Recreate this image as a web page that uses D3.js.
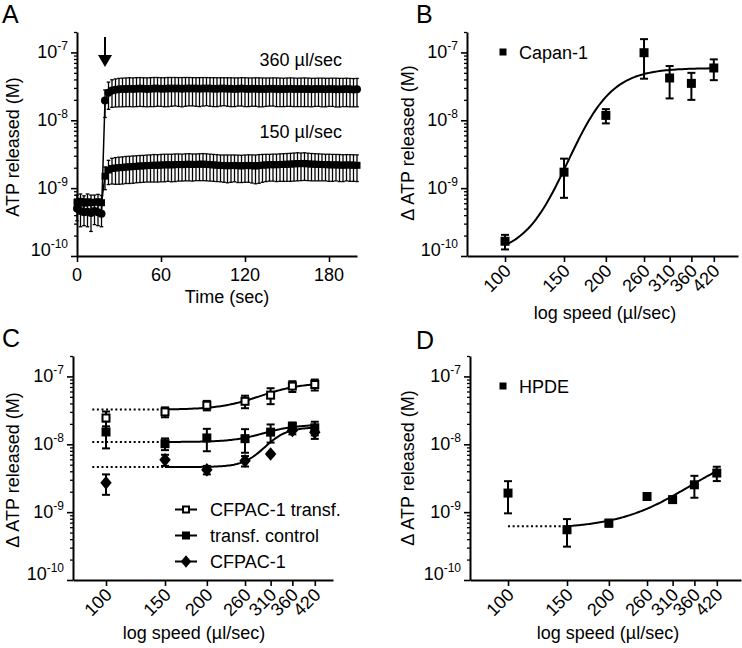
<!DOCTYPE html>
<html><head><meta charset="utf-8">
<script src="https://cdn.jsdelivr.net/npm/d3@7"></script>
<style>
body{margin:0;background:#fff}
svg{display:block}
text{font-family:"Liberation Sans",Arial,Helvetica,sans-serif;fill:#000}
</style>
</head><body>
<svg id="chart" width="742" height="648"></svg>
<script>
// ---------------- DATA ----------------
// Panel A: time course (values in nM)
const timeSec = [0,2.5,5,7.5,10,12.5,15,17.5,20,22.5,25,27.5,30,32.5,35,37.5,40,42.5,45,47.5,50,52.5,55,57.5,60,62.5,65,67.5,70,72.5,75,77.5,80,82.5,85,87.5,90,92.5,95,97.5,100,102.5,105,107.5,110,112.5,115,117.5,120,122.5,125,127.5,130,132.5,135,137.5,140,142.5,145,147.5,150,152.5,155,157.5,160,162.5,165,167.5,170,172.5,175,177.5,180,182.5,185,187.5,190,192.5,195,197.5,200];
const mean360 = [0.50,0.46,0.44,0.45,0.43,0.46,0.44,0.42,
  19.5,25.5,27.5,28.2,28.6,28.8,29.0,29.1,29.0,29.2,29.3,29.1,
  29.0,29.2,29.3,29.4,29.2,29.1,29.3,29.4,29.5,29.3,
  29.2,29.4,29.5,29.4,29.3,29.2,29.4,29.5,29.3,29.2,
  29.1,29.3,29.4,29.2,29.1,29.0,29.2,29.3,29.1,29.0,
  29.1,29.2,29.0,28.9,29.0,29.1,29.2,29.0,28.9,28.8,
  29.0,29.1,28.9,28.8,28.9,29.0,28.9,28.7,28.8,28.9,
  28.8,28.7,28.8,28.9,28.7,28.6,28.7,28.8,28.6,28.5,28.6];
const sd360 = [0.17,0.19,0.16,0.18,0.20,0.17,0.16,0.15,
  8.5,11.0,12.0,12.5,12.8,13.0,13.1,13.2,13.2,13.3,13.3,13.2,
  13.2,13.3,13.4,13.3,13.2,13.3,13.4,13.3,13.2,13.3,
  13.4,13.3,13.2,13.1,13.2,13.3,13.2,13.1,13.2,13.3,
  13.2,13.1,13.0,13.1,13.2,13.1,13.0,13.1,13.2,13.1,
  13.0,13.1,13.2,13.1,13.0,12.9,13.0,13.1,13.0,12.9,
  13.0,13.1,13.0,12.9,13.0,13.1,13.0,12.9,12.8,12.9,
  13.0,12.9,12.8,12.9,13.0,12.9,12.8,12.9,12.8,12.7,12.8];
const mean150 = [0.62,0.64,0.60,0.63,0.61,0.62,0.63,0.61,
  1.50,1.85,1.95,1.98,2.00,2.02,2.05,2.06,2.08,2.10,2.12,2.13,
  2.15,2.16,2.18,2.17,2.19,2.20,2.21,2.20,2.22,2.23,
  2.22,2.24,2.25,2.23,2.24,2.25,2.26,2.24,2.22,2.20,
  2.18,2.16,2.15,2.14,2.15,2.16,2.14,2.13,2.15,2.16,
  2.14,2.12,2.15,2.18,2.20,2.21,2.22,2.21,2.23,2.24,
  2.25,2.26,2.28,2.30,2.29,2.31,2.28,2.26,2.25,2.24,
  2.23,2.22,2.21,2.20,2.21,2.19,2.18,2.20,2.19,2.18,2.17];
const sd150 = [0.17,0.18,0.17,0.19,0.18,0.17,0.18,0.17,
  0.55,0.72,0.80,0.84,0.86,0.87,0.88,0.89,0.90,0.90,0.91,0.91,
  0.92,0.93,0.95,0.94,0.95,0.96,0.95,0.96,0.97,0.96,
  0.95,0.96,0.97,0.96,0.95,0.96,0.97,0.96,0.95,0.94,
  0.93,0.92,0.93,0.94,0.93,0.92,0.93,0.92,0.93,0.94,
  0.95,0.96,0.97,0.96,0.95,0.94,0.95,0.96,0.97,0.98,
  0.99,1.00,1.01,1.02,1.00,1.01,0.99,0.98,0.97,0.96,
  0.95,0.94,0.95,0.94,0.93,0.94,0.93,0.92,0.93,0.92,0.92];
const timeTicks = [0,60,120,180];

// Panels B-D: flow speeds (µl/sec)
const speeds = [100,150,200,260,310,360,420];
const speedLabels = ["100","150","200","260","310","360","420"];
const yMajorTicks = [1e-10,1e-9,1e-8,1e-7];
const yTickExponents = ["-10","-9","-8","-7"];

// Panel B: Capan-1 (M)
const capanMean = [1.65e-10,1.72e-9,1.18e-8,9.9e-8,4.2e-8,3.5e-8,5.9e-8];
const capanErr  = [0.40e-10,1.0e-9,0.28e-8,5.8e-8,2.1e-8,1.5e-8,2.0e-8];
// sigmoid fit in log10 space: [bottom, top, logEC50, hill]
const capanFit = [-10.0,-7.23,2.187,6.5];

// Panel C (M)
const cfTransfMean = [2.44e-8,3.0e-8,3.76e-8,4.3e-8,5.3e-8,7.2e-8,7.6e-8];
const cfTransfErr  = [0.6e-8,0.5e-8,0.6e-8,0.9e-8,1.4e-8,1.3e-8,1.4e-8];
const controlMean  = [1.52e-8,1.02e-8,1.24e-8,1.21e-8,1.51e-8,1.84e-8,1.75e-8];
const controlErr   = [0.65e-8,0.2e-8,0.45e-8,0.46e-8,0.45e-8,0.25e-8,0.4e-8];
const cfpacMean    = [2.7e-9,5.9e-9,4.2e-9,5.7e-9,7.2e-9,1.6e-8,1.5e-8];
const cfpacErr     = [0.9e-9,1.1e-9,0.6e-9,1.0e-9,0.3e-9,0.2e-8,0.3e-8];
const cfTransfFit  = [-7.49,-7.09,2.46,7];
const controlFit   = [-7.966,-7.71,2.47,9];
const cfpacFit     = [-8.335,-7.75,2.474,13];
const cFitRange = [150,420];
const cDottedStart = 91;

// Panel D: HPDE (M)
const hpdeMean = [1.91e-9,5.5e-10,6.9e-10,1.7e-9,1.53e-9,2.53e-9,3.77e-9];
const hpdeErr  = [0.95e-9,0.24e-9,0.08e-9,0.15e-9,0.12e-9,0.9e-9,0.9e-9];
const hpdeFit  = [-9.25,-8.0,2.54,4];
const dFitRange = [150,420];
const dDottedStart = 100;

const legendC = ["CFPAC-1 transf.","transf. control","CFPAC-1"];

// ---------------- DRAWING ----------------
const svg = d3.select("#chart");
const FS = 18;
const yDomain = [1e-10, 2e-7];
const minorY = [];
for (let e = -10; e <= -7; e++) for (let k = 2; k <= 9; k++) { const v = k * Math.pow(10, e); if (v <= yDomain[1]) minorY.push(v); }

function styleAxis(sel){
  sel.select(".domain").attr("stroke","#000").attr("stroke-width",2);
  sel.selectAll(".tick line").attr("stroke","#000").attr("stroke-width",1.6);
}

function yAxis(g, y, xPos){
  g.append("g").attr("transform",`translate(${xPos},0)`)
    .call(d3.axisLeft(y).tickValues(minorY).tickSize(3).tickFormat(""))
    .call(s=>{s.select(".domain").remove(); s.selectAll(".tick line").attr("stroke","#000").attr("stroke-width",1.3);});
  g.append("g").attr("transform",`translate(${xPos},0)`)
    .call(d3.axisLeft(y).tickValues(yMajorTicks).tickSize(6).tickSizeOuter(0).tickFormat(""))
    .call(styleAxis);
  yMajorTicks.forEach((v,i)=>{
    const t = g.append("text").attr("x",xPos-9).attr("y",y(v)+6-(i===0?6:0))
      .attr("text-anchor","end").style("font-size",FS+"px");
    t.append("tspan").text("10");
    t.append("tspan").attr("dy",-8).style("font-size","12px").text(yTickExponents[i]);
  });
}

function logXAxis(g, x, yPos){
  g.append("g").attr("transform",`translate(0,${yPos})`)
    .call(d3.axisBottom(x).tickValues(speeds).tickSize(6).tickSizeOuter(0).tickFormat(""))
    .call(styleAxis);
  g.selectAll(null).data(speeds).join("text")
    .attr("transform",d=>`translate(${x(d)+7},${yPos+16}) rotate(-45)`)
    .attr("text-anchor","end").style("font-size",FS+"px")
    .text((d,i)=>speedLabels[i]);
}

function yLabel(g, cx, cy, txt){
  g.append("text").attr("transform",`translate(${cx},${cy}) rotate(-90)`)
    .attr("text-anchor","middle").attr("dy","0.35em").style("font-size",FS+"px").text(txt);
}
function panelLetter(x,y,t){ svg.append("text").attr("x",x).attr("y",y).style("font-size","25px").text(t); }

function drawMarkers(g, pts, type, size){
  const sel = g.selectAll(null).data(pts);
  if (type==="square") sel.join("rect").attr("x",d=>d[0]-size/2).attr("y",d=>d[1]-size/2).attr("width",size).attr("height",size).attr("fill","#000");
  else if (type==="open") sel.join("rect").attr("x",d=>d[0]-size/2+1).attr("y",d=>d[1]-size/2+1).attr("width",size-2).attr("height",size-2).attr("fill","#fff").attr("stroke","#000").attr("stroke-width",2);
  else if (type==="diamond") sel.join("path").attr("d",d=>`M${d[0]},${d[1]-size*0.62}L${d[0]+size*0.52},${d[1]}L${d[0]},${d[1]+size*0.62}L${d[0]-size*0.52},${d[1]}Z`).attr("fill","#000");
  else sel.join("circle").attr("cx",d=>d[0]).attr("cy",d=>d[1]).attr("r",size/2).attr("fill","#000");
}

function errorBars(g, xs, means, errs, x, y, cap, sw){
  const data = xs.map((v,i)=>({x:x(v), lo:y(Math.max(means[i]-errs[i], yDomain[0])), hi:y(means[i]+errs[i])}));
  g.selectAll(null).data(data).join("line").attr("x1",d=>d.x).attr("x2",d=>d.x).attr("y1",d=>d.lo).attr("y2",d=>d.hi).attr("stroke","#000").attr("stroke-width",sw);
  g.selectAll(null).data(data).join("line").attr("x1",d=>d.x-cap).attr("x2",d=>d.x+cap).attr("y1",d=>d.hi).attr("y2",d=>d.hi).attr("stroke","#000").attr("stroke-width",sw);
  g.selectAll(null).data(data).join("line").attr("x1",d=>d.x-cap).attr("x2",d=>d.x+cap).attr("y1",d=>d.lo).attr("y2",d=>d.lo).attr("stroke","#000").attr("stroke-width",sw);
}

function fitValue(p, s){ const [b,t,c,h]=p; return Math.pow(10, b + (t-b)/(1+Math.pow(10,(c-Math.log10(s))*h))); }
function fitCurve(g, p, range, x, y){
  const lo = Math.log10(range[0]), hi = Math.log10(range[1]);
  const samples = d3.range(0,101).map(i=>Math.pow(10, lo + (hi-lo)*i/100));
  g.append("path").datum(samples).attr("fill","none").attr("stroke","#000").attr("stroke-width",2)
    .attr("d", d3.line().x(s=>x(s)).y(s=>y(fitValue(p,s))));
}
function dotted(g, p, x0, x1, x, y){
  const v = fitValue(p, x1);
  g.append("line").attr("x1",x(x0)).attr("x2",x(x1)).attr("y1",y(v)).attr("y2",y(v))
    .attr("stroke","#000").attr("stroke-width",2).attr("stroke-dasharray","2,2.6");
}

// ---------- Panel A ----------
{
  const g = svg.append("g");
  const x = d3.scaleLinear().domain([0,200]).range([77,357]);
  const y = d3.scaleLog().domain(yDomain).range([256,32]);
  const nM = v => v*1e-9;
  const series = [
    {m:mean150, s:sd150, type:"square", size:7},
    {m:mean360, s:sd360, type:"circle", size:8}
  ];
  series.forEach(sr=>{
    g.append("path").datum(timeSec).attr("fill","none").attr("stroke","#000").attr("stroke-width",1.5)
      .attr("d", d3.line().x(t=>x(t)).y((t,i)=>y(nM(sr.m[i]))));
    errorBars(g, timeSec, sr.m.map(nM), sr.s.map(nM), x, y, 1.8, 1.3);
    drawMarkers(g, timeSec.map((t,i)=>[x(t), y(nM(sr.m[i]))]), sr.type, sr.size);
  });
  yAxis(g, y, 77);
  g.append("g").attr("transform","translate(0,256)")
    .call(d3.axisBottom(x).tickValues(timeTicks).tickSize(6).tickSizeOuter(0).tickFormat(""))
    .call(styleAxis);
  g.selectAll(null).data(timeTicks).join("text").attr("x",d=>x(d)).attr("y",281)
    .attr("text-anchor","middle").style("font-size",FS+"px").text(d=>d);
  g.append("text").attr("x",227).attr("y",303).attr("text-anchor","middle").style("font-size",FS+"px").text("Time (sec)");
  yLabel(g, 13, 147, "ATP released (M)");
  // stimulus arrow
  const ax = x(20);
  g.append("line").attr("x1",ax).attr("x2",ax).attr("y1",37).attr("y2",58).attr("stroke","#000").attr("stroke-width",2);
  g.append("path").attr("d",`M${ax-7},55L${ax+7},55L${ax},67Z`).attr("fill","#000");
  g.append("text").attr("x",342).attr("y",66).attr("text-anchor","end").style("font-size",FS+"px").text("360 µl/sec");
  g.append("text").attr("x",342).attr("y",138).attr("text-anchor","end").style("font-size",FS+"px").text("150 µl/sec");
}
panelLetter(2,23,"A");

// ---------- Panel B ----------
{
  const g = svg.append("g");
  const x = d3.scaleLog().domain([77,496]).range([467,738]);
  const y = d3.scaleLog().domain(yDomain).range([256,32]);
  fitCurve(g, capanFit, [100,420], x, y);
  errorBars(g, speeds, capanMean, capanErr, x, y, 4, 2);
  drawMarkers(g, speeds.map((s,i)=>[x(s), y(capanMean[i])]), "square", 9);
  yAxis(g, y, 467);
  logXAxis(g, x, 256);
  yLabel(g, 408, 143, "Δ ATP released (M)");
  g.append("text").attr("x",605).attr("y",319).attr("text-anchor","middle").style("font-size",FS+"px").text("log speed (µl/sec)");
  drawMarkers(g, [[503,52]], "square", 7);
  g.append("text").attr("x",519).attr("y",59).style("font-size",FS+"px").text("Capan-1");
}
panelLetter(416,23,"B");

// ---------- Panel C ----------
{
  const g = svg.append("g");
  const x = d3.scaleLog().domain([79.7,476]).range([73,333]);
  const y = d3.scaleLog().domain(yDomain).range([580,356]);
  const sets = [
    {m:cfTransfMean, e:cfTransfErr, p:cfTransfFit, type:"open", size:9},
    {m:controlMean, e:controlErr, p:controlFit, type:"square", size:9},
    {m:cfpacMean, e:cfpacErr, p:cfpacFit, type:"diamond", size:11}
  ];
  sets.forEach(s=>{ dotted(g, s.p, cDottedStart, cFitRange[0], x, y); fitCurve(g, s.p, cFitRange, x, y); });
  sets.forEach(s=>errorBars(g, speeds, s.m, s.e, x, y, 4, 2));
  sets.forEach(s=>drawMarkers(g, speeds.map((v,i)=>[x(v), y(s.m[i])]), s.type, s.size));
  yAxis(g, y, 73);
  logXAxis(g, x, 580);
  yLabel(g, 13, 470, "Δ ATP released (M)");
  g.append("text").attr("x",194).attr("y",639).attr("text-anchor","middle").style("font-size",FS+"px").text("log speed (µl/sec)");
  // legend
  const ly = [509.5,535.5,561.5];
  sets.forEach((s,i)=>{
    g.append("line").attr("x1",175).attr("x2",197).attr("y1",ly[i]).attr("y2",ly[i]).attr("stroke","#000").attr("stroke-width",2);
    drawMarkers(g, [[186,ly[i]]], s.type, s.type==="diamond"?10:8);
    g.append("text").attr("x",210).attr("y",ly[i]+6.5).style("font-size",FS+"px").text(legendC[i]);
  });
}
panelLetter(2,347,"C");

// ---------- Panel D ----------
{
  const g = svg.append("g");
  const x = d3.scaleLog().domain([77,496]).range([470,741]);
  const y = d3.scaleLog().domain(yDomain).range([580,356]);
  dotted(g, hpdeFit, dDottedStart, dFitRange[0], x, y);
  fitCurve(g, hpdeFit, dFitRange, x, y);
  errorBars(g, speeds, hpdeMean, hpdeErr, x, y, 4, 2);
  drawMarkers(g, speeds.map((s,i)=>[x(s), y(hpdeMean[i])]), "square", 9);
  yAxis(g, y, 470);
  logXAxis(g, x, 580);
  yLabel(g, 408, 468, "Δ ATP released (M)");
  g.append("text").attr("x",608).attr("y",639).attr("text-anchor","middle").style("font-size",FS+"px").text("log speed (µl/sec)");
  drawMarkers(g, [[503,386]], "square", 7);
  g.append("text").attr("x",519).attr("y",393).style("font-size",FS+"px").text("HPDE");
}
panelLetter(416,349,"D");
</script>
</body></html>
